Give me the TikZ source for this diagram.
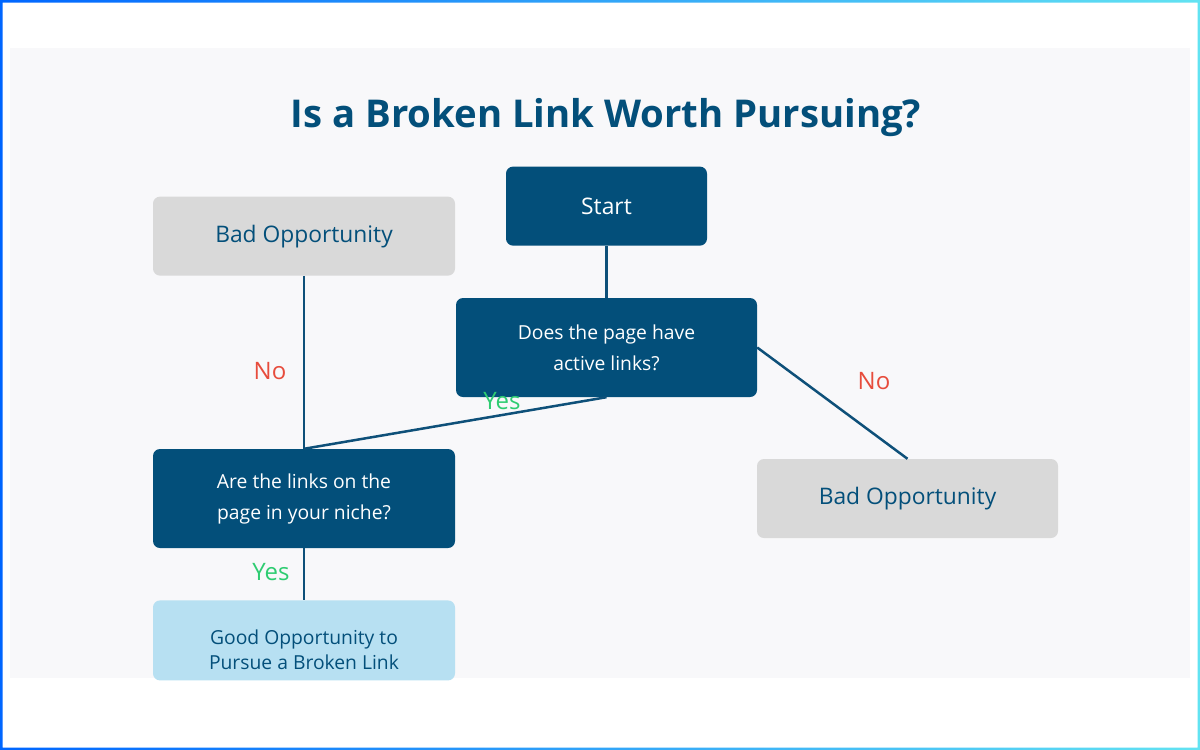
\documentclass[tikz,border=0pt]{standalone}
\usepackage{fontspec}
\setmainfont{Open Sans}
\usetikzlibrary{positioning}
\definecolor{NavyBox}{HTML}{034F7A}
\definecolor{GreyBox}{HTML}{D9D9D9}
\definecolor{SkyBox}{HTML}{B7E0F2}
\definecolor{PanelBg}{HTML}{F8F8FA}
\definecolor{LinkLine}{HTML}{0E5079}
\definecolor{NoRed}{HTML}{E74C3C}
\definecolor{YesGreen}{HTML}{2ECC71}
\definecolor{TitleBlue}{HTML}{034F7A}
\definecolor{FrameBlue}{HTML}{0066FF}
\definecolor{FrameCyan}{HTML}{62E3F2}
\begin{document}
\begin{tikzpicture}[x=1pt, y=-1pt,
    navybox/.style={rounded corners=7pt, fill=NavyBox, text=white, align=center, font=\fontsize{19.3}{31}\selectfont},
    greybox/.style={rounded corners=7pt, fill=GreyBox, text=NavyBox, align=center, minimum width=302pt, minimum height=79pt, font=\fontsize{22.8}{27}\selectfont},
    skybox/.style={rounded corners=7pt, fill=SkyBox, text=NavyBox, align=center, minimum width=302pt, minimum height=80pt, font=\fontsize{19.3}{25}\selectfont},
    link/.style={LinkLine, line width=2.5pt},
    nolabel/.style={text=NoRed, font=\fontsize{24}{28}\selectfont},
    yeslabel/.style={text=YesGreen, font=\fontsize{24}{28}\selectfont}]
      \useasboundingbox (0,0) rectangle (1200,750);
      \fill[white] (0,0) rectangle (1200,750);
      \shade[left color=FrameBlue, right color=FrameCyan, even odd rule] (0,0) rectangle (1200,750) (2.5,2.5) rectangle (1197.5,747.5);
      \fill[PanelBg] (10,48) rectangle (1190,678);
      \node[text=TitleBlue, font=\fontsize{38.3}{44}\selectfont\bfseries] (title) at (606,118) {Is a Broken Link Worth Pursuing?};
      % main question chain
      \node[navybox, minimum width=301pt, minimum height=99pt] (ask) at (606.5,347.5) {Does the page have\\active links?};
      \node[navybox, minimum width=201pt, minimum height=79pt, above=52pt of ask, font=\fontsize{22.8}{27}\selectfont] (start) {Start};
      \node[navybox, minimum width=302pt, minimum height=99pt] (niche) at (304,498.5) {Are the links on the\\page in your niche?};
      \node[greybox, above=173pt of niche] (badleft) {Bad Opportunity};
      \node[greybox, minimum width=301pt] (badright) at (907.5,498.5) {Bad Opportunity};
      \node[skybox, below=52pt of niche] (good) {\rule{0pt}{34pt}Good Opportunity to\\Pursue a Broken Link};
      \draw[link] (start) -- (ask);
      \draw[link] (ask.south) -- (niche.north);
      \draw[link] (badleft) -- (niche);
      \draw[link] (ask.east) -- (badright.north);
      \draw[link] (niche) -- (good);
      \node[nolabel] (noleft) at (270,371) {No};
      \node[yeslabel] (yesask) at (502,401) {Yes};
      \node[nolabel] (noright) at (874,381) {No};
      \node[yeslabel] (yesniche) at (271,572) {Yes};
    \end{tikzpicture}
\end{document}
